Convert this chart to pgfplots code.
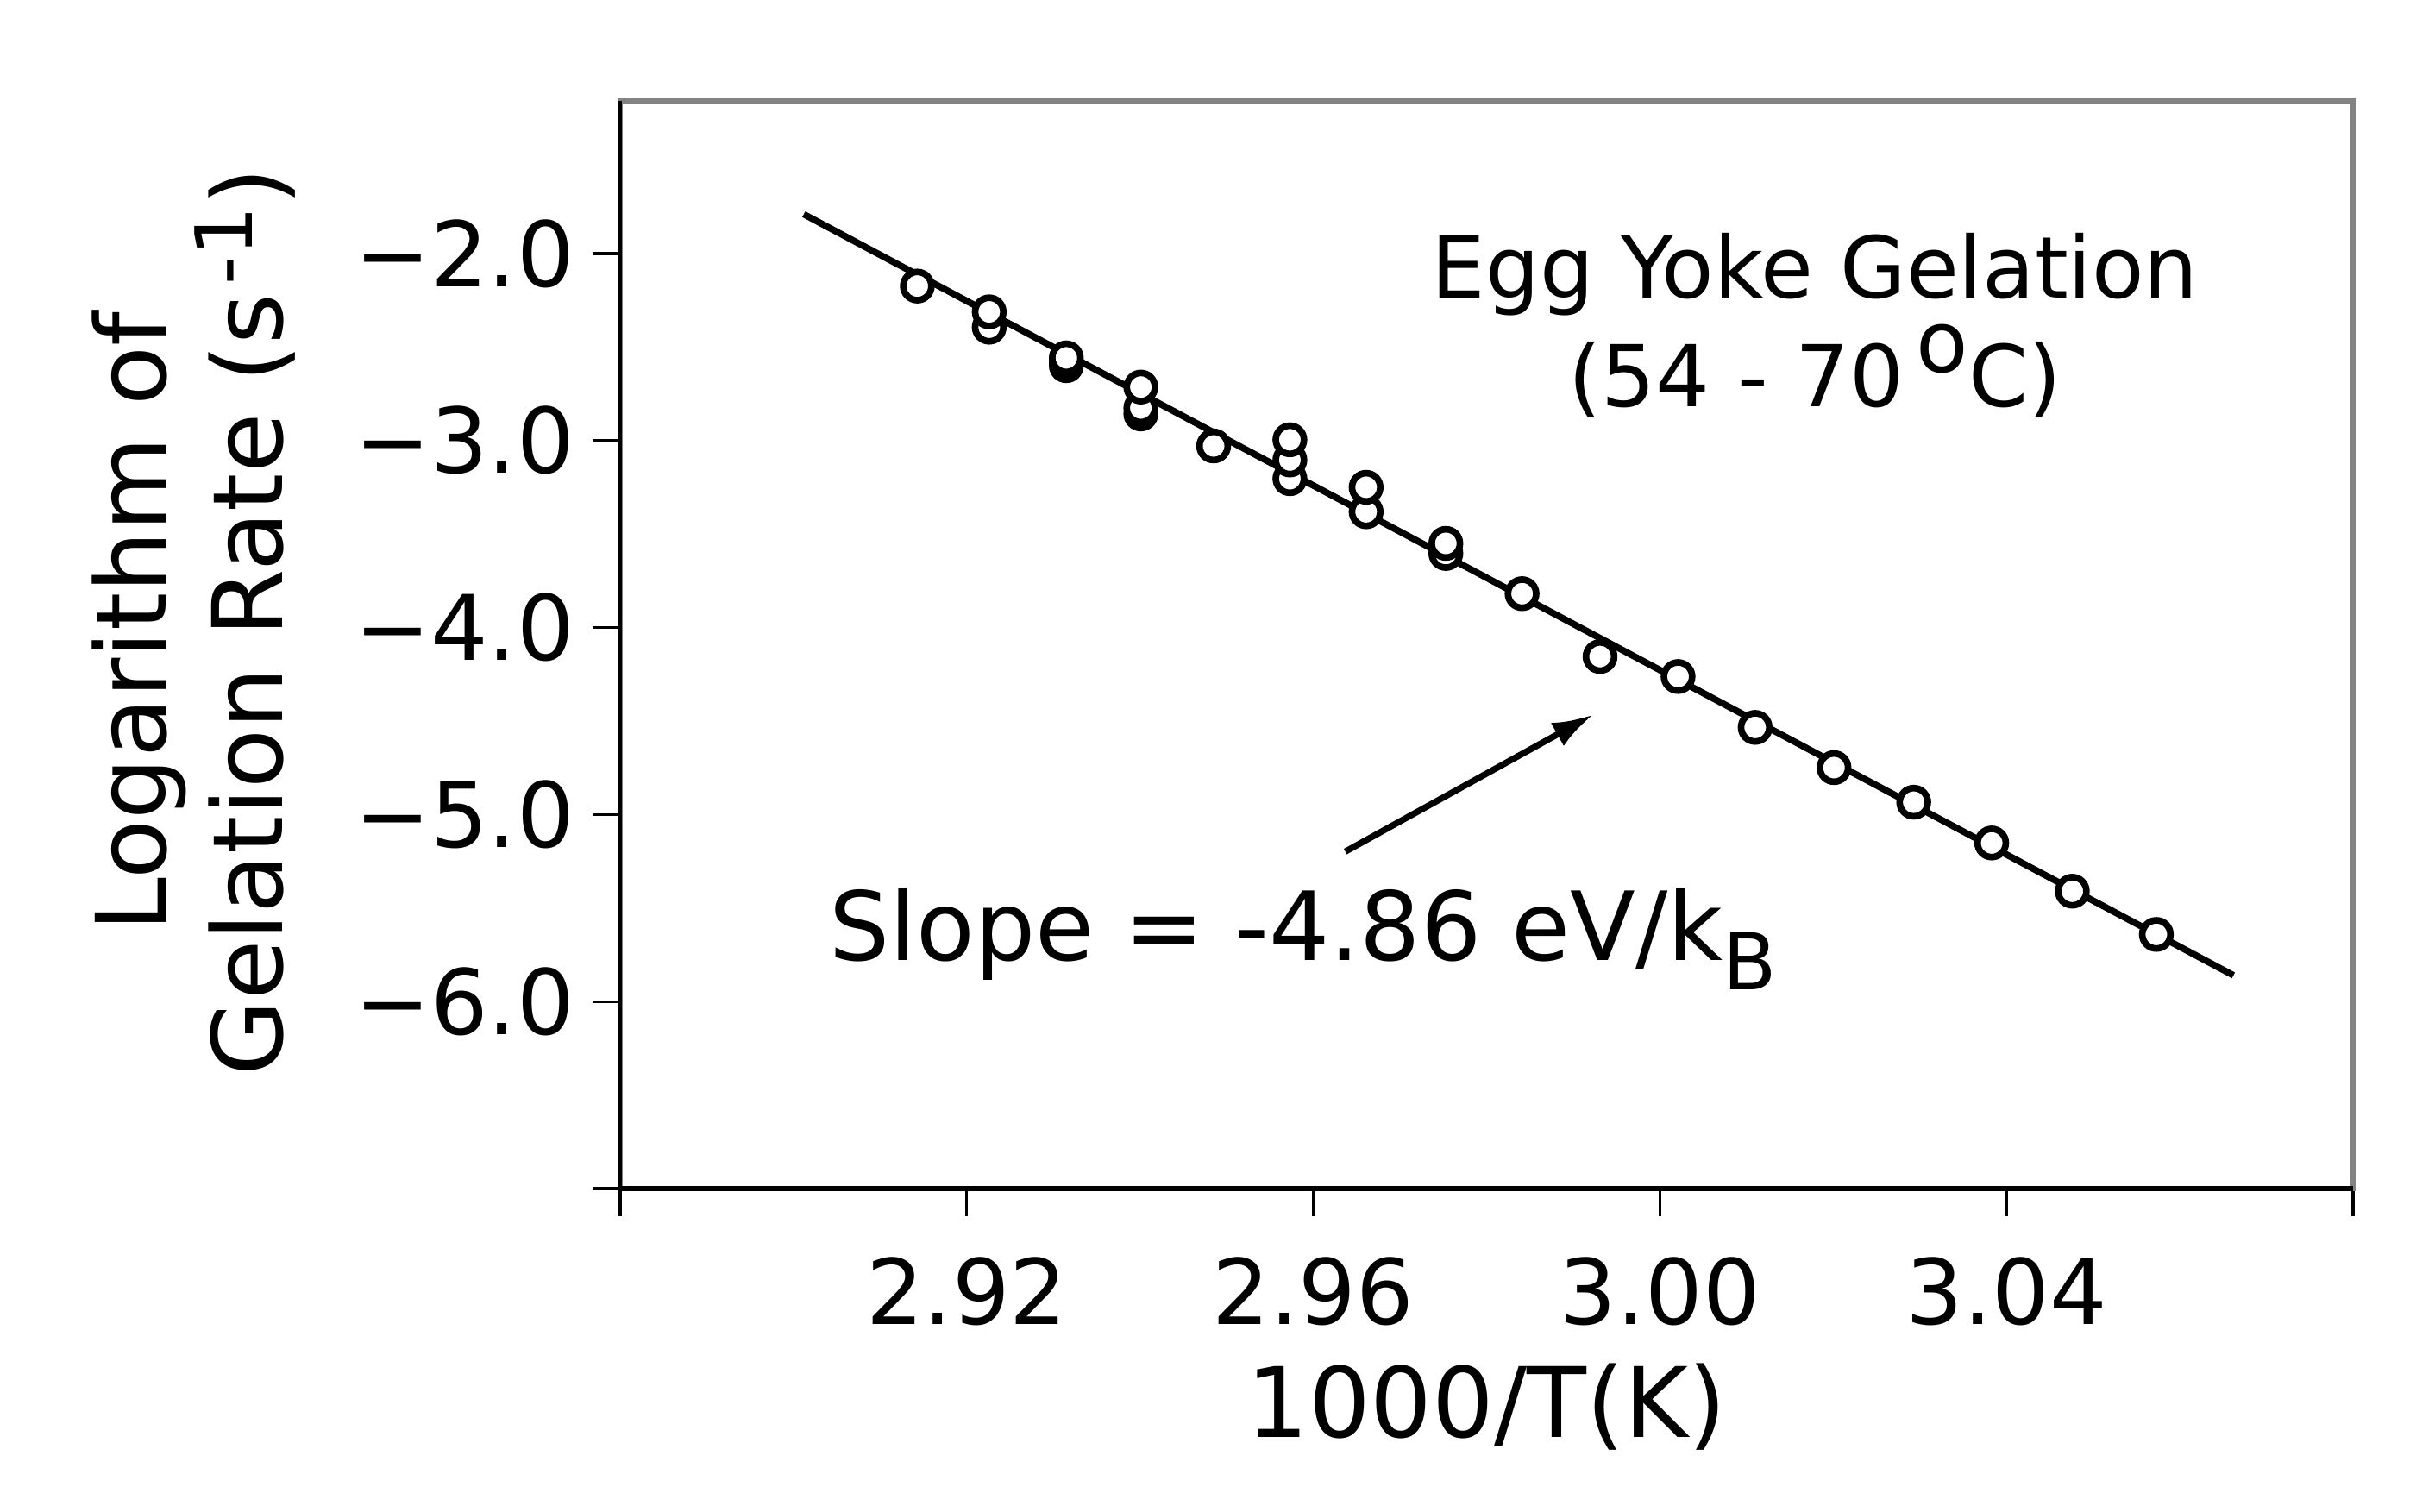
\documentclass[border=0pt]{standalone}
\usepackage{fontspec}
\setmainfont{DejaVu Sans}
\usepackage{pgfplots}
\pgfplotsset{compat=1.18}
\usepackage{pgfplotstable}
\usetikzlibrary{arrows.meta}
\definecolor{framegray}{RGB}{132,130,133}

\pgfplotstableread{
x y
2.9143 -2.174
2.9226 -2.394
2.9226 -2.312
2.9315 -2.600
2.9315 -2.585
2.9315 -2.558
2.9401 -2.858
2.9401 -2.826
2.9401 -2.714
2.9485 -3.029
2.9573 -3.204
2.9573 -3.104
2.9573 -2.996
2.9661 -3.381
2.9661 -3.250
2.9753 -3.604
2.9753 -3.550
2.9841 -3.819
2.9931 -4.155
3.0021 -4.262
3.0110 -4.534
3.0201 -4.749
3.0293 -4.934
3.0383 -5.152
3.0476 -5.410
3.0573 -5.641
}\datapts

\pgfplotstableread{
x y
2.9012 -1.79
3.0662 -5.86
}\fitline

\pgfplotstableread{
x y
2.9637 -5.198
2.9923 -4.466
}\arrowline

\begin{document}
\begin{tikzpicture}
\useasboundingbox (-98.8bp,-51.4bp) rectangle (289.16bp,189.38bp);
\begin{axis}[
  at={(0,0)}, anchor=south west,
  scale only axis, width=276.1bp, height=173.3bp,
  xmin=2.88, xmax=3.08, ymin=-7, ymax=-1.184,
  axis line style={draw=framegray, line width=0.9bp},
  xtick={2.88,2.92,2.96,3.00,3.04,3.08},
  xticklabels={,2.92,2.96,3.00,3.04,},
  ytick={-7,-6,-5,-4,-3,-2},
  yticklabels={,−6.0,−5.0,−4.0,−3.0,−2.0},
  tick align=outside, xtick pos=bottom, ytick pos=left,
  major tick length=4.4bp,
  tick style={black, line width=0.45bp},
  ticklabel style={font=\fontsize{14.4bp}{17bp}\selectfont},
  xticklabel style={anchor=north, inner sep=0pt, yshift=-6.3bp},
  yticklabel style={anchor=east, inner sep=0pt, xshift=-2.7bp},
  xlabel={1000/T(K)},
  xlabel style={font=\fontsize{15.5bp}{18.6bp}\selectfont, at={(axis description cs:0.5,-0.2284)}, anchor=base, inner sep=0pt},
  ylabel={Logarithm of\\Gelation Rate (s\hspace{1.5bp}\raisebox{4.8bp}{\fontsize{12.6bp}{13bp}\selectfont -1})},
  ylabel style={font=\fontsize{15.5bp}{18.6bp}\selectfont, align=center, at={(axis description cs:-0.246,0.521)}, anchor=center},
]
\addplot[black, line width=1.05bp, mark=none] table[x=x,y=y] {\fitline};
\addplot[only marks, mark=*, mark size=2.25bp, mark options={fill=white, draw=black, line width=1.05bp}] table[x=x,y=y] {\datapts};
\addplot[black, line width=1.0bp, mark=none, -{Latex[length=6.5bp,width=4.2bp]}] table[x=x,y=y] {\arrowline};
\node[anchor=base, font=\fontsize{13.6bp}{16bp}\selectfont] at (axis cs:3.0179,-2.24) {Egg Yoke Gelation};
\node[anchor=base, font=\fontsize{13.6bp}{16bp}\selectfont] at (axis cs:3.0179,-2.821) {(54 - 70\hspace{2bp}\raisebox{0.41em}[0pt][0pt]{o}C)};
\node[anchor=base west, inner sep=0pt, font=\fontsize{15.2bp}{18bp}\selectfont] at (axis cs:2.904,-5.78) {Slope = -4.86 eV/k\raisebox{-0.31em}{\fontsize{12.5bp}{13bp}\selectfont B}};
\end{axis}
\draw[black, line width=0.7bp] (0,173.3bp) -- (0,0) -- (276.1bp,0);
\end{tikzpicture}
\end{document}
